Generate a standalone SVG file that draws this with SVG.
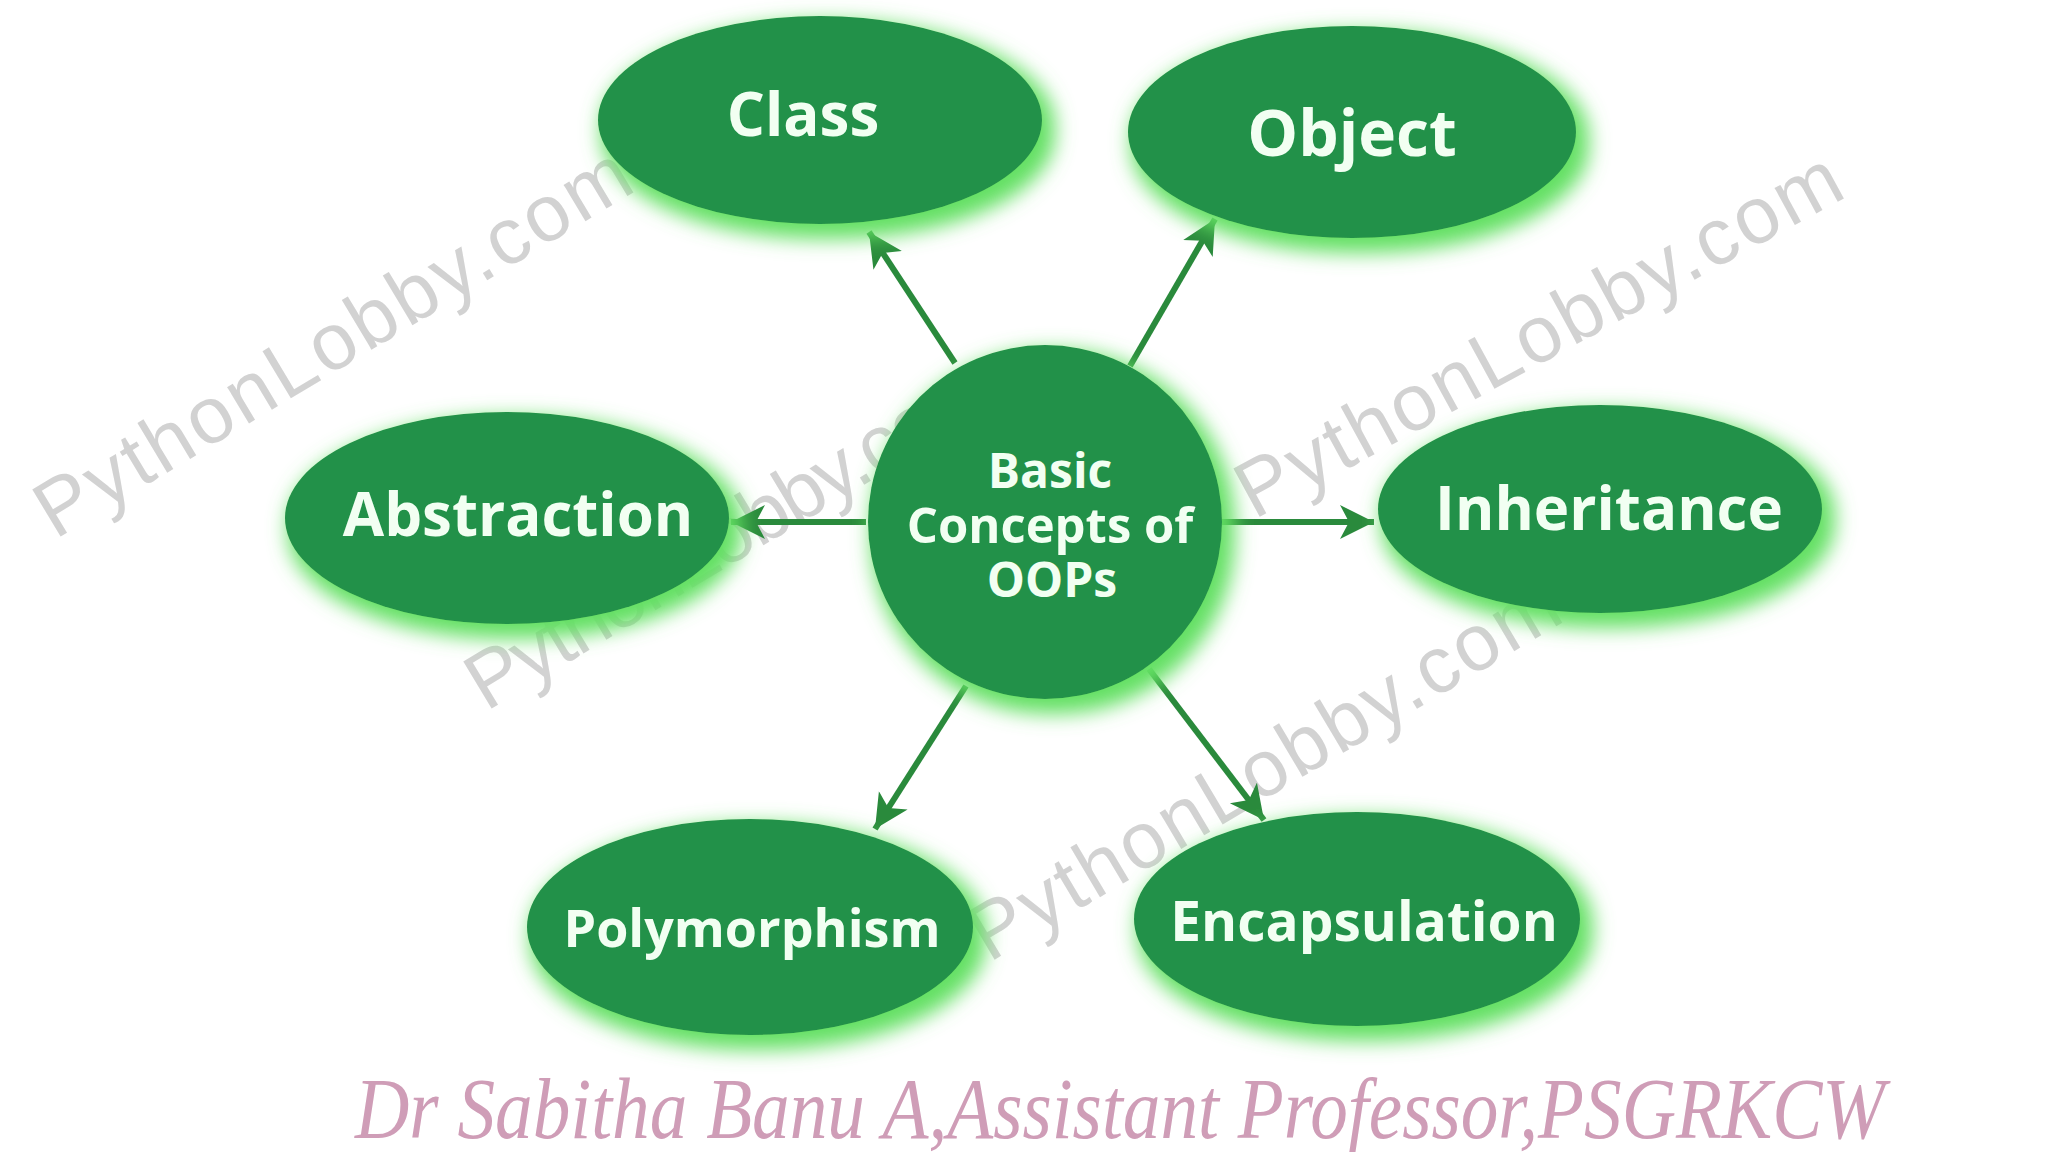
<svg xmlns="http://www.w3.org/2000/svg" width="2048" height="1152" viewBox="0 0 2048 1152">
  <style>
    .node { fill: #219148; filter: url(#glow); }
    .lbl { font-family: "Open Sans", "Liberation Sans", sans-serif; font-weight: 700; fill: #f2fff2; text-anchor: middle; }
    .wm { font-family: "Liberation Sans", "Open Sans", sans-serif; font-size: 80px; fill: #b5b5b5; opacity: 0.6; }
    .edge { stroke: #2a8a3c; stroke-width: 6; fill: none; marker-end: url(#arrow); }
    .footer { font-family: "Liberation Serif", "DejaVu Serif", serif; font-style: italic; fill: #cf9db7; }
  </style>
  <defs>
    <filter id="glow" x="-25%" y="-25%" width="150%" height="150%">
      <feMorphology operator="dilate" radius="5" in="SourceAlpha" result="d"/>
      <feOffset dx="8" dy="10" in="d" result="o"/>
      <feGaussianBlur in="o" stdDeviation="10" result="b"/>
      <feFlood flood-color="#63e063" result="f"/>
      <feComposite operator="in" in="f" in2="b" result="g"/>
      <feMerge><feMergeNode in="g"/><feMergeNode in="SourceGraphic"/></feMerge>
    </filter>
    <marker id="arrow" markerUnits="userSpaceOnUse" markerWidth="40" markerHeight="36" refX="34" refY="17" orient="auto">
      <path d="M0,0 L34,17 L0,34 L9,17 Z" fill="#2a8a3c"/>
    </marker>
  </defs>

  <rect width="2048" height="1152" fill="#ffffff"/>

  <g id="watermarks">
    <text class="wm" transform="translate(55,540) rotate(-31)" textLength="680">PythonLobby.com</text>
    <text class="wm" transform="translate(1254,520) rotate(-28.6)" textLength="677">PythonLobby.com</text>
    <text class="wm" transform="translate(486,712) rotate(-31)" textLength="600">PythonLobby.com</text>
    <text class="wm" transform="translate(989,963) rotate(-30.7)" textLength="672">PythonLobby.com</text>
  </g>

  <g id="connectors">
    <line class="edge" x1="955" y1="363" x2="869" y2="232"/>
    <line class="edge" x1="1130" y1="366" x2="1215" y2="219"/>
    <line class="edge" x1="866" y1="522" x2="731" y2="522"/>
    <line class="edge" x1="1222" y1="522" x2="1374" y2="522"/>
    <line class="edge" x1="966" y1="686" x2="875" y2="829"/>
    <line class="edge" x1="1149" y1="669" x2="1264" y2="820"/>
  </g>

  <g id="node-center">
    <circle class="node" cx="1045" cy="522" r="177"/>
    <text class="lbl" x="1050" y="488" font-size="48">Basic</text>
    <text class="lbl" x="1050" y="543" font-size="49">Concepts of</text>
    <text class="lbl" x="1052" y="597" font-size="48">OOPs</text>
  </g>
  <g id="node-class">
    <ellipse class="node" cx="820" cy="120" rx="222" ry="104"/>
    <text class="lbl" x="803" y="136" font-size="60">Class</text>
  </g>
  <g id="node-object">
    <ellipse class="node" cx="1352" cy="132" rx="224" ry="106"/>
    <text class="lbl" x="1352" y="156" font-size="64">Object</text>
  </g>
  <g id="node-abstraction">
    <ellipse class="node" cx="507" cy="518" rx="222" ry="106"/>
    <text class="lbl" x="518" y="536" font-size="60">Abstraction</text>
  </g>
  <g id="node-inheritance">
    <ellipse class="node" cx="1600" cy="509" rx="222" ry="104"/>
    <text class="lbl" x="1609" y="530" font-size="60">Inheritance</text>
  </g>
  <g id="node-polymorphism">
    <ellipse class="node" cx="750" cy="927" rx="223" ry="108"/>
    <text class="lbl" x="752" y="947" font-size="52">Polymorphism</text>
  </g>
  <g id="node-encapsulation">
    <ellipse class="node" cx="1357" cy="919" rx="223" ry="107"/>
    <text class="lbl" x="1364" y="941" font-size="55">Encapsulation</text>
  </g>

  <text class="footer" x="355" y="1138" font-size="86" textLength="1530" lengthAdjust="spacingAndGlyphs">Dr Sabitha Banu A,Assistant Professor,PSGRKCW</text>
</svg>
